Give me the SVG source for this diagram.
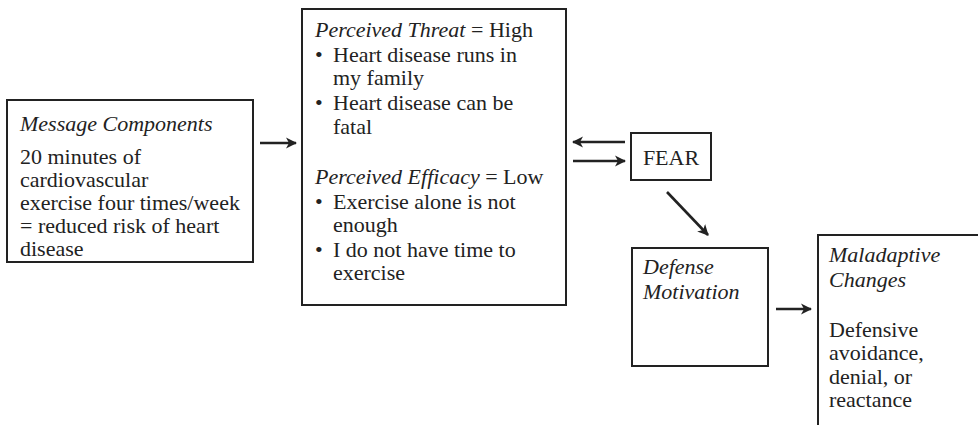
<svg xmlns="http://www.w3.org/2000/svg" width="978" height="425" viewBox="0 0 978 425">
  <defs>
    <marker id="head" markerWidth="12" markerHeight="12" refX="10" refY="6" orient="auto" markerUnits="userSpaceOnUse">
      <path d="M0,0.5 L11,6 L0,11.5 L3,6 Z" fill="#222"/>
    </marker>
    <style>
      .box { fill: #fff; stroke: #222; stroke-width: 2; }
      .t { font-family: "Liberation Serif", "Times New Roman", serif; font-size: 22px; fill: #222; }
      .i { font-style: italic; }
      .arrow { stroke: #222; stroke-width: 2.6; fill: none; marker-end: url(#head); }
    </style>
  </defs>
  <rect width="978" height="425" fill="#fff"/>

  <g id="message-components">
    <rect class="box" x="7" y="100" width="246" height="162"/>
    <text class="t i" x="20" y="131">Message Components</text>
    <text class="t" x="20" y="164">20 minutes of</text>
    <text class="t" x="20" y="187">cardiovascular</text>
    <text class="t" x="20" y="210">exercise four times/week</text>
    <text class="t" x="20" y="233">= reduced risk of heart</text>
    <text class="t" x="20" y="256">disease</text>
  </g>

  <g id="perceptions">
    <rect class="box" x="302" y="9" width="264" height="296"/>
    <text class="t" x="315" y="37"><tspan class="i">Perceived Threat</tspan> = High</text>
    <text class="t" x="315" y="62">•</text>
    <text class="t" x="333" y="62">Heart disease runs in</text>
    <text class="t" x="333" y="85">my family</text>
    <text class="t" x="315" y="110">•</text>
    <text class="t" x="333" y="110">Heart disease can be</text>
    <text class="t" x="333" y="134">fatal</text>
    <text class="t" x="315" y="184"><tspan class="i">Perceived Efficacy</tspan> = Low</text>
    <text class="t" x="315" y="209">•</text>
    <text class="t" x="333" y="209">Exercise alone is not</text>
    <text class="t" x="333" y="232">enough</text>
    <text class="t" x="315" y="257">•</text>
    <text class="t" x="333" y="257">I do not have time to</text>
    <text class="t" x="333" y="280">exercise</text>
  </g>

  <g id="fear">
    <rect class="box" x="631" y="133" width="80" height="47"/>
    <text class="t" x="671" y="165" text-anchor="middle">FEAR</text>
  </g>

  <g id="defense-motivation">
    <rect class="box" x="632" y="248" width="136" height="118"/>
    <text class="t i" x="643" y="274">Defense</text>
    <text class="t i" x="643" y="299">Motivation</text>
  </g>

  <g id="maladaptive-changes">
    <rect class="box" x="818" y="235" width="200" height="220"/>
    <text class="t i" x="829" y="262">Maladaptive</text>
    <text class="t i" x="829" y="287">Changes</text>
    <text class="t" x="829" y="337">Defensive</text>
    <text class="t" x="829" y="360">avoidance,</text>
    <text class="t" x="829" y="384">denial, or</text>
    <text class="t" x="829" y="407">reactance</text>
  </g>

  <g id="connectors">
    <line class="arrow" x1="260" y1="143" x2="296" y2="143"/>
    <line class="arrow" x1="625" y1="142" x2="573" y2="142"/>
    <line class="arrow" x1="573" y1="161" x2="625" y2="161"/>
    <line class="arrow" x1="667" y1="192" x2="708" y2="235"/>
    <line class="arrow" x1="776" y1="309" x2="811" y2="309"/>
  </g>
</svg>
